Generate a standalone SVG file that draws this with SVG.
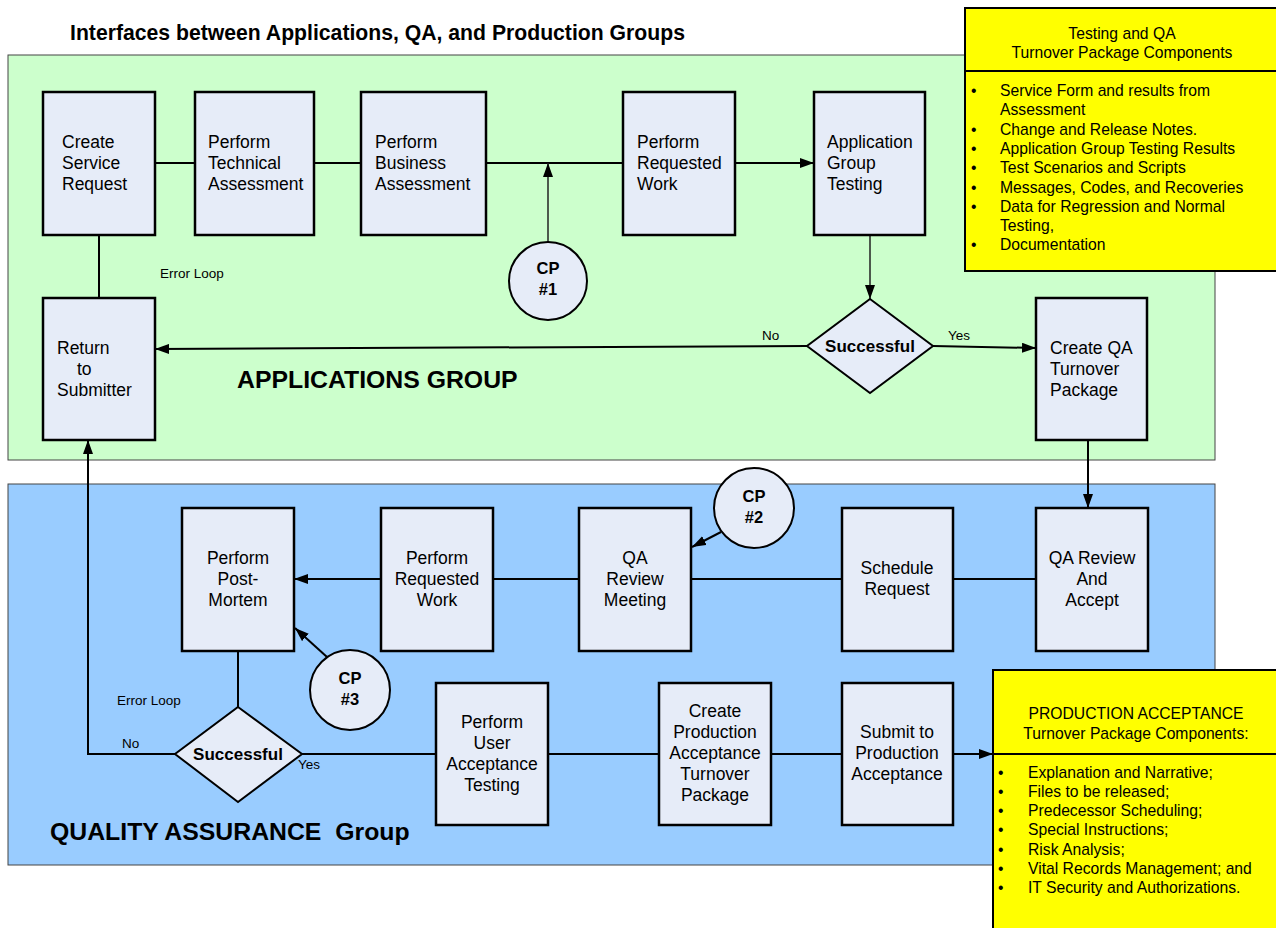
<svg xmlns="http://www.w3.org/2000/svg" width="1276" height="928" viewBox="0 0 1276 928">
  <defs>
    <marker id="arr" viewBox="0 0 14 10" refX="14" refY="5" markerWidth="14" markerHeight="10" markerUnits="userSpaceOnUse" orient="auto">
      <path d="M0,0 L14,5 L0,10 z" fill="#000"/>
    </marker>
    <style>
      text { font-family: "Liberation Sans", Arial, sans-serif; fill: #000; }
      .panel { stroke: #444; stroke-width: 1; }
      .box { fill: #E6ECF8; stroke: #000; stroke-width: 2.5; }
      .dia { fill: #E6ECF8; stroke: #000; stroke-width: 2; }
      .cp { fill: #E6ECF8; stroke: #000; stroke-width: 2; }
      .lbl { font-size: 17.5px; }
      .mid { text-anchor: middle; }
      .cpt { font-size: 16.5px; font-weight: bold; text-anchor: middle; }
      .dtx { font-size: 17px; font-weight: bold; text-anchor: middle; }
      .small { font-size: 13.5px; }
      .group { font-size: 24.8px; font-weight: bold; white-space: pre; }
      .note { fill: #FFFF00; stroke: #000; stroke-width: 2; }
      .ntx { font-size: 15.7px; }
      .wire { fill: none; stroke: #000; stroke-width: 2; }
      .thin { fill: none; stroke: #222; stroke-width: 1.5; }
    </style>
  </defs>

  <rect width="1276" height="928" fill="#fff"/>

  <!-- swimlanes -->
  <rect id="lane-applications" class="panel" x="8" y="55" width="1207" height="405" fill="#CCFFCC"/>
  <rect id="lane-qa" class="panel" x="8" y="484" width="1207" height="381" fill="#99CCFF"/>

  <text x="70" y="40" style="font-size:21.2px;font-weight:bold">Interfaces between Applications, QA, and Production Groups</text>
  <text class="group" x="237" y="388">APPLICATIONS GROUP</text>
  <text class="group" x="50" y="840" xml:space="preserve">QUALITY ASSURANCE  Group</text>

  <!-- connectors -->
  <g id="connectors">
    <path class="wire" d="M155,163 H195"/>
    <path class="wire" d="M314,163 H361"/>
    <path class="wire" d="M486,163 H623"/>
    <path class="wire" d="M735,163 H814" marker-end="url(#arr)"/>
    <path class="thin" d="M548,242 V163" marker-end="url(#arr)"/>
    <path class="thin" d="M870,235 V299" marker-end="url(#arr)"/>
    <path class="wire" d="M807,346 L155,349" marker-end="url(#arr)"/>
    <path class="wire" d="M933,346 L1036,348" marker-end="url(#arr)"/>
    <path class="wire" d="M99,235 V298"/>
    <path class="wire" d="M1088,440 V508" marker-end="url(#arr)"/>
    <path class="wire" d="M1036,579 H953"/>
    <path class="wire" d="M842,579 H691"/>
    <path class="wire" d="M579,579 H493"/>
    <path class="wire" d="M381,579 H294" marker-end="url(#arr)"/>
    <path class="wire" d="M721,532 L692,547" marker-end="url(#arr)"/>
    <path class="wire" d="M327,657 L295,628" marker-end="url(#arr)"/>
    <path class="wire" d="M238,651 V707"/>
    <path class="wire" d="M175,754 H88 V440" marker-end="url(#arr)"/>
    <path class="wire" d="M302,754 H436"/>
    <path class="wire" d="M548,754 H659"/>
    <path class="wire" d="M771,754 H842"/>
    <path class="wire" d="M953,754 H993" marker-end="url(#arr)"/>
    <text class="small" x="160" y="278">Error Loop</text>
    <text class="small" x="762" y="340">No</text>
    <text class="small" x="948" y="340">Yes</text>
    <text class="small" x="117" y="705">Error Loop</text>
    <text class="small" x="122" y="748">No</text>
    <text class="small" x="298" y="769">Yes</text>
  </g>

  <!-- applications group -->
  <g id="create-service-request">
    <rect class="box" x="43" y="92" width="112" height="143"/>
    <text class="lbl" x="62" y="148">Create</text>
    <text class="lbl" x="62" y="169">Service</text>
    <text class="lbl" x="62" y="190">Request</text>
  </g>
  <g id="technical-assessment">
    <rect class="box" x="195" y="92" width="119" height="143"/>
    <text class="lbl" x="208" y="148">Perform</text>
    <text class="lbl" x="208" y="169">Technical</text>
    <text class="lbl" x="208" y="190">Assessment</text>
  </g>
  <g id="business-assessment">
    <rect class="box" x="361" y="92" width="125" height="143"/>
    <text class="lbl" x="375" y="148">Perform</text>
    <text class="lbl" x="375" y="169">Business</text>
    <text class="lbl" x="375" y="190">Assessment</text>
  </g>
  <g id="requested-work-app">
    <rect class="box" x="623" y="92" width="112" height="143"/>
    <text class="lbl" x="637" y="148">Perform</text>
    <text class="lbl" x="637" y="169">Requested</text>
    <text class="lbl" x="637" y="190">Work</text>
  </g>
  <g id="app-group-testing">
    <rect class="box" x="814" y="92" width="111" height="143"/>
    <text class="lbl" x="827" y="148">Application</text>
    <text class="lbl" x="827" y="169">Group</text>
    <text class="lbl" x="827" y="190">Testing</text>
  </g>
  <g id="cp1">
    <circle class="cp" cx="548" cy="281" r="39"/>
    <text class="cpt" x="548" y="274">CP</text>
    <text class="cpt" x="548" y="295">#1</text>
  </g>
  <g id="app-successful">
    <polygon class="dia" points="870,299 933,346 870,393 807,346"/>
    <text class="dtx" x="870" y="352">Successful</text>
  </g>
  <g id="return-to-submitter">
    <rect class="box" x="43" y="298" width="112" height="142"/>
    <text class="lbl" x="57" y="354">Return</text>
    <text class="lbl" x="77" y="375">to</text>
    <text class="lbl" x="57" y="396">Submitter</text>
  </g>
  <g id="create-qa-turnover">
    <rect class="box" x="1036" y="298" width="111" height="142"/>
    <text class="lbl" x="1050" y="354">Create QA</text>
    <text class="lbl" x="1050" y="375">Turnover</text>
    <text class="lbl" x="1050" y="396">Package</text>
  </g>

  <!-- quality assurance group -->
  <g id="post-mortem">
    <rect class="box" x="182" y="508" width="112" height="143"/>
    <text class="lbl mid" x="238" y="564">Perform</text>
    <text class="lbl mid" x="238" y="585">Post-</text>
    <text class="lbl mid" x="238" y="606">Mortem</text>
  </g>
  <g id="requested-work-qa">
    <rect class="box" x="381" y="508" width="112" height="143"/>
    <text class="lbl mid" x="437" y="564">Perform</text>
    <text class="lbl mid" x="437" y="585">Requested</text>
    <text class="lbl mid" x="437" y="606">Work</text>
  </g>
  <g id="qa-review-meeting">
    <rect class="box" x="579" y="508" width="112" height="143"/>
    <text class="lbl mid" x="635" y="564">QA</text>
    <text class="lbl mid" x="635" y="585">Review</text>
    <text class="lbl mid" x="635" y="606">Meeting</text>
  </g>
  <g id="schedule-request">
    <rect class="box" x="842" y="508" width="111" height="143"/>
    <text class="lbl mid" x="897" y="574">Schedule</text>
    <text class="lbl mid" x="897" y="595">Request</text>
  </g>
  <g id="qa-review-accept">
    <rect class="box" x="1036" y="508" width="112" height="143"/>
    <text class="lbl mid" x="1092" y="564">QA Review</text>
    <text class="lbl mid" x="1092" y="585">And</text>
    <text class="lbl mid" x="1092" y="606">Accept</text>
  </g>
  <g id="cp2">
    <circle class="cp" cx="754" cy="508" r="40"/>
    <text class="cpt" x="754" y="502">CP</text>
    <text class="cpt" x="754" y="523">#2</text>
  </g>
  <g id="cp3">
    <circle class="cp" cx="350" cy="690" r="40"/>
    <text class="cpt" x="350" y="684">CP</text>
    <text class="cpt" x="350" y="705">#3</text>
  </g>
  <g id="qa-successful">
    <polygon class="dia" points="238,707 302,754 238,802 175,754"/>
    <text class="dtx" x="238" y="760">Successful</text>
  </g>
  <g id="user-acceptance">
    <rect class="box" x="436" y="683" width="112" height="142"/>
    <text class="lbl mid" x="492" y="728">Perform</text>
    <text class="lbl mid" x="492" y="749">User</text>
    <text class="lbl mid" x="492" y="770">Acceptance</text>
    <text class="lbl mid" x="492" y="791">Testing</text>
  </g>
  <g id="production-turnover">
    <rect class="box" x="659" y="683" width="112" height="142"/>
    <text class="lbl mid" x="715" y="717">Create</text>
    <text class="lbl mid" x="715" y="738">Production</text>
    <text class="lbl mid" x="715" y="759">Acceptance</text>
    <text class="lbl mid" x="715" y="780">Turnover</text>
    <text class="lbl mid" x="715" y="801">Package</text>
  </g>
  <g id="submit-production">
    <rect class="box" x="842" y="683" width="111" height="142"/>
    <text class="lbl mid" x="897" y="738">Submit to</text>
    <text class="lbl mid" x="897" y="759">Production</text>
    <text class="lbl mid" x="897" y="780">Acceptance</text>
  </g>

  <!-- package component notes -->
  <g id="qa-package-note">
    <rect class="note" x="965" y="8" width="320" height="263"/>
    <line x1="965" y1="71" x2="1285" y2="71" stroke="#000" stroke-width="2"/>
    <text class="ntx mid" x="1122" y="39">Testing and QA</text>
    <text class="ntx mid" x="1122" y="58">Turnover Package Components</text>
    <g class="ntx">
      <text x="971" y="96">•</text><text x="1000" y="96">Service Form and results from</text>
      <text x="1000" y="115">Assessment</text>
      <text x="971" y="135">•</text><text x="1000" y="135">Change and Release Notes.</text>
      <text x="971" y="154">•</text><text x="1000" y="154">Application Group Testing Results</text>
      <text x="971" y="173">•</text><text x="1000" y="173">Test Scenarios and Scripts</text>
      <text x="971" y="193">•</text><text x="1000" y="193">Messages, Codes, and Recoveries</text>
      <text x="971" y="212">•</text><text x="1000" y="212">Data for Regression and Normal</text>
      <text x="1000" y="231">Testing,</text>
      <text x="971" y="250">•</text><text x="1000" y="250">Documentation</text>
    </g>
  </g>
  <g id="production-package-note">
    <rect class="note" x="993" y="670" width="292" height="270"/>
    <line x1="993" y1="754" x2="1285" y2="754" stroke="#000" stroke-width="2"/>
    <text class="ntx mid" x="1136" y="719">PRODUCTION ACCEPTANCE</text>
    <text class="ntx mid" x="1136" y="739">Turnover Package Components:</text>
    <g class="ntx">
      <text x="998" y="778">•</text><text x="1028" y="778">Explanation and Narrative;</text>
      <text x="998" y="797">•</text><text x="1028" y="797">Files to be released;</text>
      <text x="998" y="816">•</text><text x="1028" y="816">Predecessor Scheduling;</text>
      <text x="998" y="835">•</text><text x="1028" y="835">Special Instructions;</text>
      <text x="998" y="855">•</text><text x="1028" y="855">Risk Analysis;</text>
      <text x="998" y="874">•</text><text x="1028" y="874">Vital Records Management; and</text>
      <text x="998" y="893">•</text><text x="1028" y="893">IT Security and Authorizations.</text>
    </g>
  </g>
</svg>
